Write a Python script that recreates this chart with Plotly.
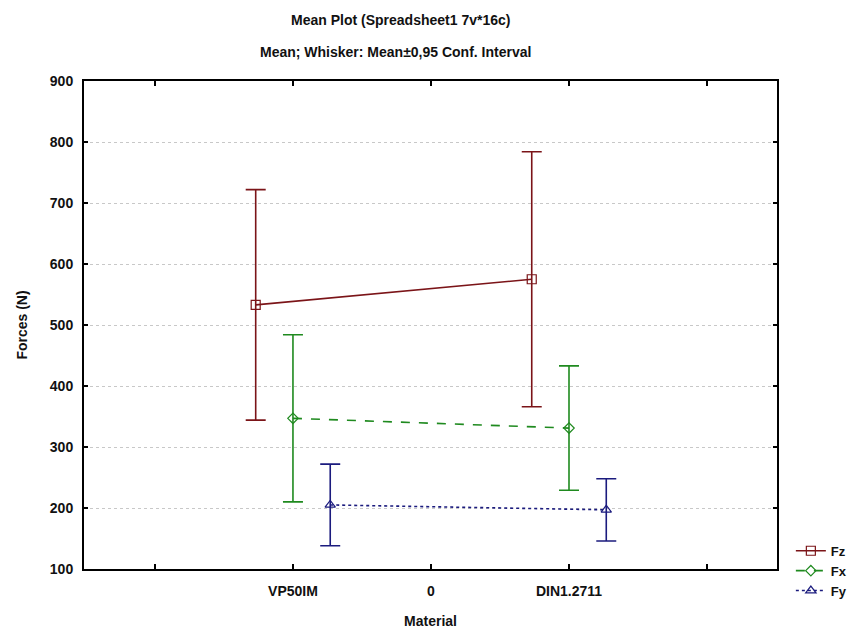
import plotly.graph_objects as go

# ---- data ----
materials = ["VP50IM", "DIN1.2711"]
material_pos = [1, 3]
tick_vals = [0, 1, 2, 3, 4]
tick_text = ["", "VP50IM", "0", "DIN1.2711", ""]

fz_mean = [533, 575]
fz_ci = [189, 209]
fx_mean = [347, 331]
fx_ci = [137, 102]
fy_mean = [205, 197]
fy_ci = [67, 51]

series = [
    ("Fz", fz_mean, fz_ci, -0.27, "#7b1418", "solid", "square-open"),
    ("Fx", fx_mean, fx_ci, 0.0, "#1f8a1f", "dash", "diamond-open"),
    ("Fy", fy_mean, fy_ci, 0.27, "#1b1b7e", "dot", "triangle-up-open"),
]

FONT = "Arial, Liberation Sans, sans-serif"

fig = go.Figure()
for name, mean, ci, off, color, dash, sym in series:
    fig.add_trace(go.Scatter(
        x=[p + off for p in material_pos],
        y=mean,
        name=name,
        mode="lines+markers",
        line=dict(color=color, width=1.6, dash=dash),
        marker=dict(symbol=sym, size=9 if sym != "diamond-open" else 8,
                    color=color, line=dict(width=1.2, color=color)),
        error_y=dict(type="data", array=ci, visible=True, color=color,
                     thickness=1.6, width=10),
    ))

TF = dict(family=FONT, size=14, color="#111111", weight="bold")

fig.update_layout(
    width=855, height=632,
    margin=dict(l=84, r=78, t=81, b=63, autoexpand=False),
    paper_bgcolor="white", plot_bgcolor="white",
    font=dict(family=FONT, size=12, color="black"),
    showlegend=True,
    legend=dict(x=1.02, xanchor="left", y=0.068, yanchor="top",
                font=dict(family=FONT, size=13, color="#111111", weight="bold"),
                bgcolor="rgba(0,0,0,0)", tracegroupgap=0, itemwidth=30),
    annotations=[
        dict(text="Mean Plot (Spreadsheet1 7v*16c)", xref="paper", yref="paper",
             x=0.457, y=1.0, yshift=61, xanchor="center", yanchor="middle",
             showarrow=False, font=TF),
        dict(text="Mean; Whisker: Mean±0,95 Conf. Interval", xref="paper", yref="paper",
             x=0.45, y=1.0, yshift=29, xanchor="center", yanchor="middle",
             showarrow=False, font=TF),
    ],
)

fig.update_xaxes(
    range=[-0.514, 4.507], tickmode="array", tickvals=tick_vals, ticktext=tick_text,
    automargin=False,
    showgrid=False, zeroline=False,
    showline=True, linecolor="black", linewidth=2, mirror="ticks",
    ticks="inside", ticklen=5, tickcolor="black", tickwidth=2,
    ticklabelstandoff=8,
    tickfont=TF,
    title=dict(text="Material", font=TF, standoff=18),
)
fig.update_yaxes(
    range=[100, 900], tickmode="array", tickvals=[100, 200, 300, 400, 500, 600, 700, 800, 900],
    automargin=False,
    showgrid=True, gridcolor="#c8c8c8", griddash="dot", gridwidth=1,
    zeroline=False,
    showline=True, linecolor="black", linewidth=2, mirror="ticks",
    ticks="inside", ticklen=4, tickcolor="black", tickwidth=2,
    ticklabelstandoff=6,
    tickfont=TF,
    title=dict(text="Forces (N)", font=TF, standoff=19),
)

fig.write_html("out.html")
